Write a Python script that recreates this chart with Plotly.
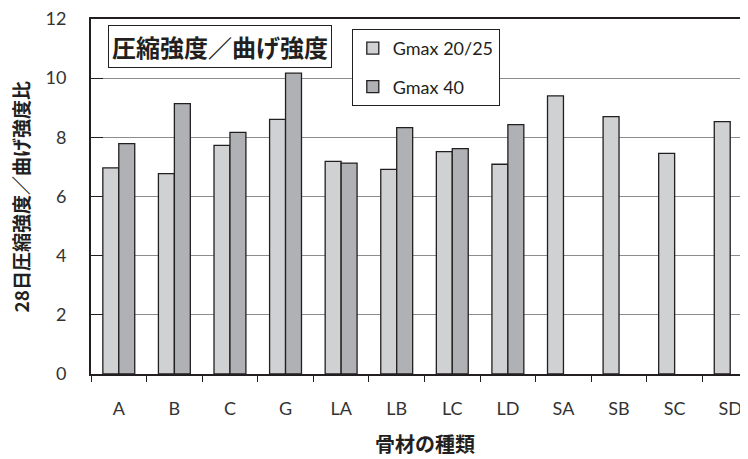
import plotly.graph_objects as go

# aggregate types and compressive/flexural strength ratio
categories = ['A', 'B', 'C', 'G', 'LA', 'LB', 'LC', 'LD', 'SA', 'SB', 'SC', 'SD']
gmax_20_25 = [6.97, 6.77, 7.73, 8.61, 7.19, 6.92, 7.52, 7.09, 9.40, 8.70, 7.46, 8.53]
gmax_40 = [7.79, 9.14, 8.17, 10.17, 7.13, 8.33, 7.62, 8.43, None, None, None, None]
y_ticks = [0, 2, 4, 6, 8, 10, 12]

font_lat = 'Lato, Noto Sans, sans-serif'
font_jp = 'Noto Sans CJK JP'
outline = dict(color='#231f20', width=1.3)

fig = go.Figure()
fig.add_trace(go.Bar(x=categories, y=gmax_20_25, name='Gmax 20/25', legendgroup='a',
                     marker=dict(color='#d0d1d3', line=outline)))
fig.add_trace(go.Bar(x=categories, y=gmax_40, name='Gmax 40', legendgroup='b',
                     marker=dict(color='#b0b1b4', line=outline)))

# the page adds an 8px body margin, the right end of the plot runs past the window
fig.update_layout(
    width=750, height=459,
    margin=dict(l=83, r=0, t=11, b=93),
    plot_bgcolor='white', paper_bgcolor='white',
    barmode='group', bargap=0.426, bargroupgap=0,
    font=dict(family=font_lat, color='#333333'),
    legend=dict(x=0.391, y=0.972, xanchor='left', yanchor='top',
                bordercolor='#231f20', borderwidth=1, bgcolor='white',
                font=dict(size=18, family=font_lat, color='#231f20'),
                tracegroupgap=12),
    xaxis=dict(range=[-0.5, 11.5], showline=True, linecolor='#231f20', linewidth=1.8,
               mirror=True, ticks='outside', tickson='boundaries', ticklen=6,
               tickcolor='#231f20', tickfont=dict(size=18), ticklabelstandoff=17),
    yaxis=dict(range=[0, 12], tickvals=y_ticks, showline=True, linecolor='#231f20',
               linewidth=1.8, ticks='inside', ticklen=12, tickcolor='#231f20',
               showgrid=True, gridcolor='#8c8c8c', gridwidth=1.2,
               tickfont=dict(size=18), ticklabelstandoff=19, zeroline=False,
               ticklabeloverflow='allow'),
    annotations=[
        dict(text='<b>圧縮強度／曲げ強度</b>', xref='paper', yref='paper',
             x=0.025, y=0.983, xanchor='left', yanchor='top', showarrow=False,
             font=dict(size=24, family=font_jp, color='#231f20'),
             bordercolor='#231f20', borderwidth=1, borderpad=3, bgcolor='white'),
        dict(text='<b>骨材の種類</b>', xref='paper', yref='paper',
             x=0.5, y=-0.197, xanchor='center', yanchor='middle', showarrow=False,
             font=dict(size=20, family=font_jp, color='#231f20')),
        dict(text='<b>28日圧縮強度／曲げ強度比</b>', xref='paper', yref='paper',
             x=-0.105, y=0.5, xanchor='center', yanchor='middle', showarrow=False,
             textangle=-90, font=dict(size=19, family=font_jp, color='#231f20')),
    ],
)

fig.write_html("out.html")
